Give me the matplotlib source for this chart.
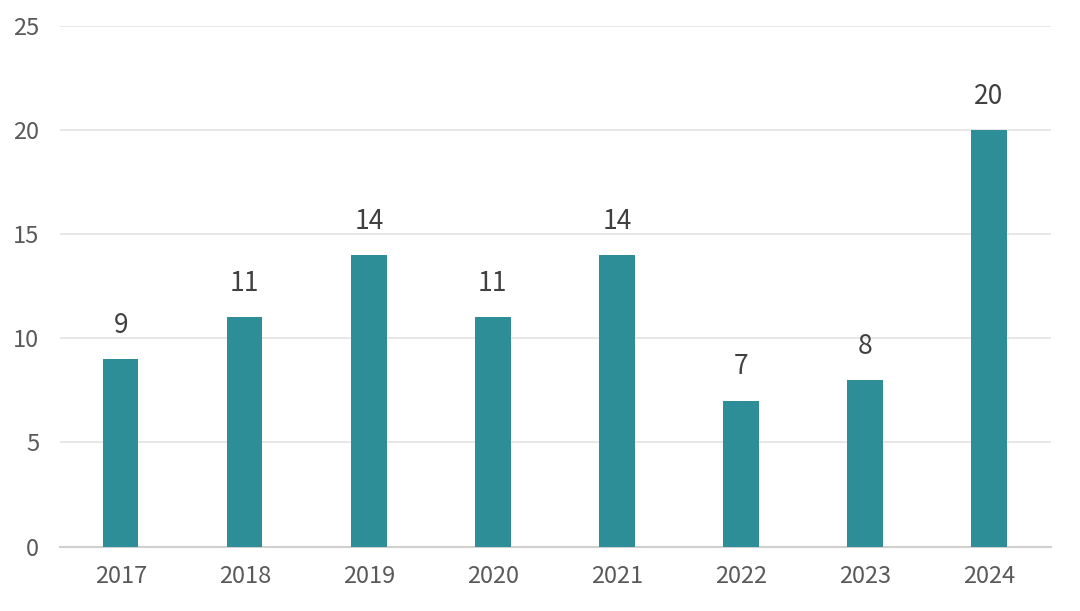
import matplotlib
matplotlib.use("Agg")
import matplotlib.pyplot as plt

years = ["2017", "2018", "2019", "2020", "2021", "2022", "2023", "2024"]
values = [9, 11, 14, 11, 14, 7, 8, 20]
yticks = [0, 5, 10, 15, 20, 25]

plt.rcParams['font.family'] = ['Noto Sans CJK SC', 'DejaVu Sans']

fig = plt.figure(figsize=(10.8, 6.11), dpi=100)
ax = fig.add_axes([60/1080, 1-546.5/611, (1051-60)/1080, (546.5-26)/611])

x = list(range(len(years)))
ax.bar(x, values, width=0.285, color="#2E8E97", zorder=3)
for xi, v in zip(x, values):
    ax.annotate(str(v), (xi, v), xytext=(0, 19), textcoords="offset points",
                ha="center", va="baseline", fontsize=19, color="#404040")

ax.set_xlim(-0.49, 7.5)
ax.set_ylim(0, 25)
ax.set_yticks(yticks)
ax.set_xticks(x)
ax.set_xticklabels(years)
ax.grid(axis="y", color="#e3e3e3", linewidth=1.2, zorder=0)
for s in ["top", "right", "left"]:
    ax.spines[s].set_visible(False)
ax.spines["bottom"].set_color("#d0d0d0")
ax.spines["bottom"].set_linewidth(1.5)
ax.tick_params(axis="both", length=0, labelsize=17, colors="#595959")
ax.tick_params(axis="x", pad=13)
ax.tick_params(axis="y", pad=15)

fig.savefig("out.png", dpi=100, facecolor="white")
